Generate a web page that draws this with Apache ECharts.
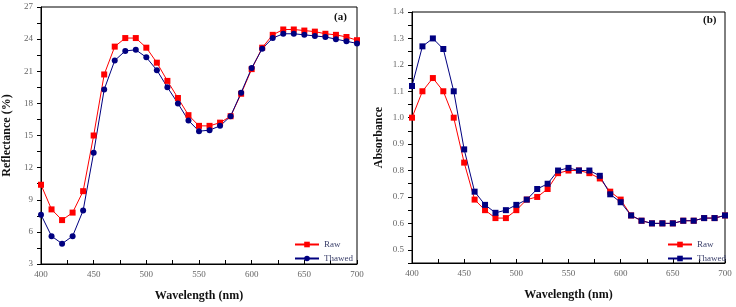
<!DOCTYPE html>
<html>
<head>
<meta charset="utf-8">
<script src="https://cdn.jsdelivr.net/npm/echarts@6/dist/echarts.min.js"></script>
<style>
  html, body { margin: 0; padding: 0; background: #fff; }
  #chart { width: 736px; height: 307px; }
</style>
</head>
<body>
<div id="chart"></div>
<script>
const wavelength = [400,410,420,430,440,450,460,470,480,490,500,510,520,530,540,550,560,570,580,590,600,610,620,630,640,650,660,670,680,690,700];

const reflRaw = [10.4,8.1,7.1,7.8,9.8,15.0,20.7,23.3,24.1,24.1,23.2,21.8,20.1,18.5,16.9,15.9,15.9,16.2,16.8,18.9,21.2,23.2,24.4,24.9,24.9,24.8,24.7,24.5,24.4,24.2,23.9];
const reflThawed = [7.6,5.6,4.9,5.6,8.0,13.4,19.3,22.0,22.9,23.0,22.3,21.1,19.5,18.0,16.4,15.4,15.5,15.9,16.8,19.0,21.3,23.1,24.1,24.5,24.5,24.4,24.3,24.2,24.0,23.8,23.6];

const absRaw = [1.00,1.10,1.15,1.10,1.00,0.83,0.69,0.65,0.62,0.62,0.65,0.69,0.70,0.73,0.79,0.80,0.80,0.79,0.77,0.72,0.69,0.63,0.61,0.60,0.60,0.60,0.61,0.61,0.62,0.62,0.63];
const absThawed = [1.12,1.27,1.30,1.26,1.10,0.88,0.72,0.67,0.64,0.65,0.67,0.69,0.73,0.75,0.80,0.81,0.80,0.80,0.78,0.71,0.68,0.63,0.61,0.60,0.60,0.60,0.61,0.61,0.62,0.62,0.63];

const seriesNames = ['Raw', 'Thawed'];

const serif = '"Liberation Serif", "DejaVu Serif", serif';
const labelStyle = { color: '#666', fontSize: 9, fontFamily: serif };
const nameStyle = { color: '#111', fontSize: 12, fontWeight: 'bold', fontFamily: serif };

function pair(xs, ys) {
  return xs.map(function (x, i) { return [x, ys[i]]; });
}

function xAxisFor(idx) {
  return {
    type: 'value', gridIndex: idx, min: 400, max: 700, interval: 25,
    name: 'Wavelength (nm)', nameLocation: 'middle', nameGap: 26,
    nameTextStyle: nameStyle,
    axisLine: { lineStyle: { color: '#000', width: 1 } },
    axisTick: { inside: true, length: 4, lineStyle: { color: '#000' } },
    axisLabel: Object.assign({}, labelStyle, {
      margin: 6,
      formatter: function (v) { return v % 50 === 0 ? v : ''; }
    }),
    splitLine: { show: false }
  };
}

const option = {
  animation: false,
  backgroundColor: '#fff',
  grid: [
    { left: 39, right: 379, top: 7, bottom: 43, show: true, borderColor: '#000', borderWidth: 1 },
    { left: 412, right: 11, top: 12, bottom: 44, show: true, borderColor: '#000', borderWidth: 1 }
  ],
  xAxis: [xAxisFor(0), xAxisFor(1)],
  yAxis: [
    {
      type: 'value', gridIndex: 0, min: 3, max: 27, interval: 1.5,
      name: 'Reflectance (%)', nameLocation: 'middle', nameGap: 28,
      nameTextStyle: nameStyle,
      axisLine: { lineStyle: { color: '#000' } },
      axisTick: { length: 4, lineStyle: { color: '#000' } },
      axisLabel: Object.assign({}, labelStyle, {
        margin: 8,
        formatter: function (v) { return v % 3 === 0 ? v : ''; }
      }),
      splitLine: { show: false }
    },
    {
      type: 'value', gridIndex: 1, min: 0.45, max: 1.4, interval: 0.05,
      name: 'Absorbance', nameLocation: 'middle', nameGap: 27,
      nameTextStyle: nameStyle,
      axisLine: { lineStyle: { color: '#000' } },
      axisTick: { length: 4, lineStyle: { color: '#000' } },
      axisLabel: Object.assign({}, labelStyle, {
        margin: 8,
        formatter: function (v) {
          return Math.round(v * 100) % 10 === 0 ? v.toFixed(1) : '';
        }
      }),
      splitLine: { show: false }
    }
  ],
  legend: [
    {
      data: seriesNames, orient: 'vertical', left: 289, top: 235,
      itemWidth: 24, itemHeight: 7, itemGap: 5,
      textStyle: { color: '#3a3f6a', fontSize: 9, fontFamily: serif }
    },
    {
      data: seriesNames.map(function (n) { return n + ' '; }), orient: 'vertical', left: 662, top: 235,
      itemWidth: 24, itemHeight: 7, itemGap: 5,
      formatter: function (n) { return n.trim(); },
      textStyle: { color: '#3a3f6a', fontSize: 9, fontFamily: serif }
    }
  ],
  graphic: [
    { type: 'text', left: 334, top: 12, style: { text: '(a)', font: 'bold 11px ' + serif, fill: '#111' } },
    { type: 'text', left: 703, top: 15, style: { text: '(b)', font: 'bold 11px ' + serif, fill: '#111' } }
  ],
  series: [
    {
      name: 'Raw', type: 'line', xAxisIndex: 0, yAxisIndex: 0,
      data: pair(wavelength, reflRaw), symbol: 'rect', symbolSize: 6,
      itemStyle: { color: '#ff0000' }, lineStyle: { color: '#ff0000', width: 1 }
    },
    {
      name: 'Thawed', type: 'line', xAxisIndex: 0, yAxisIndex: 0,
      data: pair(wavelength, reflThawed), symbol: 'circle', symbolSize: 6,
      itemStyle: { color: '#000080' }, lineStyle: { color: '#000080', width: 1 }
    },
    {
      name: 'Raw ', type: 'line', xAxisIndex: 1, yAxisIndex: 1,
      data: pair(wavelength, absRaw), symbol: 'rect', symbolSize: 6,
      itemStyle: { color: '#ff0000' }, lineStyle: { color: '#ff0000', width: 1 }
    },
    {
      name: 'Thawed ', type: 'line', xAxisIndex: 1, yAxisIndex: 1,
      data: pair(wavelength, absThawed), symbol: 'rect', symbolSize: 6,
      itemStyle: { color: '#000080' }, lineStyle: { color: '#000080', width: 1 }
    }
  ]
};

const myChart = echarts.init(document.getElementById('chart'));
myChart.setOption(option);
window.addEventListener('resize', function () { myChart.resize(); }, false);
</script>
</body>
</html>
